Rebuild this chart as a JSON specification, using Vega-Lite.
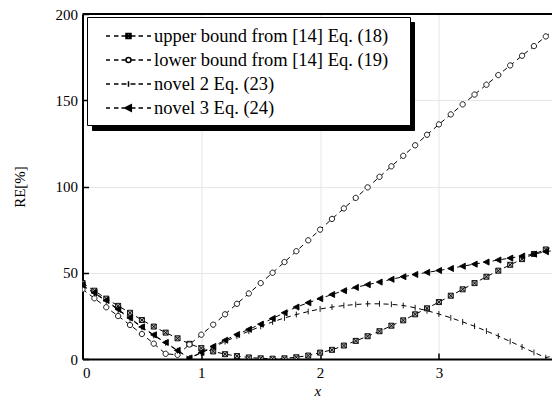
{
  "$schema": "https://vega.github.io/schema/vega-lite/v6.json",
  "width": 469.5,
  "height": 345,
  "autosize": {"type": "none"},
  "padding": {"left": 82.5, "top": 14, "right": 0, "bottom": 51},
  "background": "white",
  "config": {
    "view": {"stroke": null},
    "font": "Liberation Serif",
    "axis": {
      "domainColor": "black",
      "domainWidth": 2,
      "tickColor": "black",
      "tickWidth": 1.5,
      "tickSize": -6,
      "labelFont": "Liberation Serif",
      "labelFontSize": 15,
      "labelColor": "black",
      "titleFont": "Liberation Serif",
      "titleFontSize": 15,
      "titleFontWeight": "normal",
      "titleColor": "black",
      "gridColor": "#e6e6e6",
      "gridWidth": 1,
      "format": "d"
    },
    "legend": {
      "orient": "none",
      "title": null,
      "padding": 7,
      "cornerRadius": 0,
      "symbolSize": 484,
      "symbolOffset": 11,
      "labelOffset": 25,
      "labelFont": "Liberation Serif",
      "labelFontSize": 18.5,
      "labelLimit": 0
    }
  },
  "data": {
    "values": [
      {"x": 0.0, "U": 44.0, "L": 40.4, "N2": 42.5, "N3": 42.9},
      {"x": 0.1, "U": 39.6, "L": 35.2, "N2": 38.0, "N3": 38.4},
      {"x": 0.2, "U": 35.0, "L": 30.0, "N2": 33.6, "N3": 34.0},
      {"x": 0.3, "U": 30.8, "L": 24.9, "N2": 28.4, "N3": 28.8},
      {"x": 0.4, "U": 26.8, "L": 19.7, "N2": 23.4, "N3": 23.8},
      {"x": 0.5, "U": 22.6, "L": 14.5, "N2": 18.3, "N3": 18.6},
      {"x": 0.6, "U": 18.8, "L": 8.9, "N2": 13.7, "N3": 14.0},
      {"x": 0.7, "U": 15.3, "L": 3.0, "N2": 9.3, "N3": 9.6},
      {"x": 0.8, "U": 12.0, "L": 2.4, "N2": 4.8, "N3": 5.0},
      {"x": 0.9, "U": 8.8, "L": 8.4, "N2": 0.5, "N3": 0.6},
      {"x": 1.0, "U": 6.3, "L": 14.1, "N2": 3.5, "N3": 3.8},
      {"x": 1.1, "U": 4.4, "L": 19.9, "N2": 6.8, "N3": 7.3},
      {"x": 1.2, "U": 2.8, "L": 25.9, "N2": 10.1, "N3": 10.9},
      {"x": 1.3, "U": 1.7, "L": 32.0, "N2": 13.2, "N3": 14.2},
      {"x": 1.4, "U": 0.9, "L": 38.0, "N2": 16.1, "N3": 17.2},
      {"x": 1.5, "U": 0.4, "L": 44.0, "N2": 18.9, "N3": 20.2},
      {"x": 1.6, "U": 0.2, "L": 50.0, "N2": 21.5, "N3": 23.5},
      {"x": 1.7, "U": 0.4, "L": 56.2, "N2": 23.8, "N3": 26.8},
      {"x": 1.8, "U": 1.0, "L": 62.5, "N2": 25.8, "N3": 30.1},
      {"x": 1.9, "U": 2.0, "L": 68.8, "N2": 27.5, "N3": 32.6},
      {"x": 2.0, "U": 3.7, "L": 75.0, "N2": 29.0, "N3": 35.0},
      {"x": 2.1, "U": 5.3, "L": 81.2, "N2": 30.1, "N3": 37.4},
      {"x": 2.2, "U": 7.8, "L": 87.3, "N2": 31.0, "N3": 39.6},
      {"x": 2.3, "U": 10.5, "L": 93.4, "N2": 31.6, "N3": 41.5},
      {"x": 2.4, "U": 13.2, "L": 99.5, "N2": 32.0, "N3": 43.1},
      {"x": 2.5, "U": 16.1, "L": 105.6, "N2": 32.0, "N3": 44.6},
      {"x": 2.6, "U": 19.3, "L": 111.7, "N2": 31.7, "N3": 46.2},
      {"x": 2.7, "U": 22.4, "L": 117.8, "N2": 31.0, "N3": 47.7},
      {"x": 2.8, "U": 25.9, "L": 123.9, "N2": 29.7, "N3": 49.0},
      {"x": 2.9, "U": 29.4, "L": 130.0, "N2": 28.0, "N3": 50.2},
      {"x": 3.0, "U": 33.0, "L": 136.0, "N2": 26.1, "N3": 51.3},
      {"x": 3.1, "U": 36.7, "L": 141.8, "N2": 23.9, "N3": 52.5},
      {"x": 3.2, "U": 40.4, "L": 147.6, "N2": 21.5, "N3": 53.8},
      {"x": 3.3, "U": 44.0, "L": 153.3, "N2": 19.0, "N3": 55.0},
      {"x": 3.4, "U": 47.7, "L": 159.0, "N2": 16.2, "N3": 56.2},
      {"x": 3.5, "U": 51.2, "L": 164.6, "N2": 13.3, "N3": 57.4},
      {"x": 3.6, "U": 54.6, "L": 170.2, "N2": 10.2, "N3": 58.5},
      {"x": 3.7, "U": 57.9, "L": 175.8, "N2": 7.0, "N3": 59.7},
      {"x": 3.8, "U": 60.9, "L": 181.4, "N2": 3.8, "N3": 60.8},
      {"x": 3.9, "U": 63.5, "L": 187.0, "N2": 0.8, "N3": 62.2},
      {"x": 4.0, "U": 66.0, "L": 192.5, "N2": 2.5, "N3": 63.3}
    ]
  },
  "transform": [{"fold": ["U", "L", "N2", "N3"], "as": ["series", "re"]}],
  "resolve": {
    "scale": {"shape": "independent", "fill": "independent"},
    "legend": {"shape": "independent", "fill": "independent"}
  },
  "layer": [
    {
      "data": {"values": [{"top": 200}]},
      "transform": [],
      "mark": {"type": "rule", "stroke": "black", "strokeWidth": 2},
      "encoding": {"y": {"field": "top", "type": "quantitative"}}
    },
    {
      "mark": {"type": "line", "stroke": "black", "strokeWidth": 1, "strokeDash": [5, 4], "clip": true},
      "encoding": {
        "x": {
          "field": "x", "type": "quantitative",
          "scale": {"domain": [0, 3.952], "nice": false, "zero": false},
          "axis": {"values": [0, 1, 2, 3], "title": "x", "titleFontStyle": "italic", "labelPadding": 12, "titlePadding": 3}
        },
        "y": {
          "field": "re", "type": "quantitative",
          "scale": {"domain": [0, 200], "nice": false},
          "axis": {"values": [0, 50, 100, 150, 200], "title": "RE[%]", "labelPadding": 11, "titlePadding": 28}
        },
        "detail": {"field": "series"}
      }
    },
    {
      "mark": {"type": "point", "filled": true, "stroke": "black", "strokeWidth": 0.9, "opacity": 1, "size": 112, "clip": true},
      "encoding": {
        "x": {"field": "x", "type": "quantitative"},
        "y": {"field": "re", "type": "quantitative"},
        "shape": {
          "field": "series", "type": "nominal",
          "scale": {
            "domain": ["N3", "N2", "L", "U"],
            "range": [
              "M-0.6,0L0.5,-0.575L0.5,0.575Z",
              "M0,-0.55V0.55",
              "M0.5,0A0.5,0.5,0,1,1,-0.5,0A0.5,0.5,0,1,1,0.5,0Z",
              "M-0.475,-0.475H0.475V0.475H-0.475ZM-0.475,-0.475L0.475,0.475M0.475,-0.475L-0.475,0.475"
            ]
          },
          "legend": {
            "legendX": 9.5, "legendY": 8,
            "fillColor": "black", "strokeColor": "black",
            "symbolOpacity": 0, "labelColor": "black", "labelOpacity": 0,
            "labelOffset": 268, "labelExpr": "'.'"
          }
        },
        "fill": {
          "field": "series", "type": "nominal",
          "scale": {"domain": ["N3", "N2", "L", "U"], "range": ["black", "black", "white", "#b0b0b0"]},
          "legend": {
            "legendX": 9.5, "legendY": 8,
            "fillColor": "black", "strokeColor": "black",
            "symbolOpacity": 0, "labelColor": "black", "labelOpacity": 0,
            "labelOffset": 268, "labelExpr": "'.'"
          }
        }
      }
    },
    {
      "transform": [{"filter": "datum.x < 0"}],
      "mark": {"type": "point", "filled": true, "stroke": "black", "strokeWidth": 1, "opacity": 1},
      "encoding": {
        "shape": {
          "field": "series", "type": "nominal",
          "scale": {
            "domain": ["U", "L", "N2", "N3"],
            "range": [
              "M-1,0H-0.636M-0.273,0H0.136M0.409,0H1.682M1.955,0H2.364M2.727,0H3.091M0.818,-0.227H1.273V0.227H0.818ZM0.818,-0.227L1.273,0.227M1.273,-0.227L0.818,0.227",
              "M-1,0H-0.636M-0.273,0H0.136M0.409,0H0.818M1.273,0H1.682M1.955,0H2.364M2.727,0H3.091M1.273,0A0.227,0.227,0,1,1,0.818,0A0.227,0.227,0,1,1,1.273,0Z",
              "M-1,0H-0.636M-0.273,0H0.136M0.409,0H0.864M1.227,0H1.682M1.955,0H2.364M2.727,0H3.091M1.045,-0.25V0.25",
              "M-1,0H-0.636M-0.273,0H0.136M0.409,0H1.682M1.955,0H2.364M2.727,0H3.091M0.72,0L1.3,-0.3L1.3,0.3Z"
            ]
          },
          "legend": {
            "legendX": 4.5, "legendY": 3,
            "fillColor": "white", "strokeColor": "black", "labelColor": "black",
            "labelExpr": "{'U':'upper bound from [14] Eq. (18)','L':'lower bound from [14] Eq. (19)','N2':'novel 2 Eq. (23)','N3':'novel 3 Eq. (24)'}[datum.value] + '\u2800'",
            "encode": {"symbols": {"stroke": {"value": "black"}, "strokeWidth": {"value": 1}}}
          }
        },
        "fill": {
          "field": "series", "type": "nominal",
          "scale": {"domain": ["U", "L", "N2", "N3"], "range": ["#b0b0b0", "white", "black", "black"]},
          "legend": {
            "legendX": 4.5, "legendY": 3,
            "fillColor": "white", "strokeColor": "black", "labelColor": "black",
            "labelExpr": "{'U':'upper bound from [14] Eq. (18)','L':'lower bound from [14] Eq. (19)','N2':'novel 2 Eq. (23)','N3':'novel 3 Eq. (24)'}[datum.value] + '\u2800'",
            "encode": {"symbols": {"stroke": {"value": "black"}, "strokeWidth": {"value": 1}}}
          }
        }
      }
    }
  ]
}
